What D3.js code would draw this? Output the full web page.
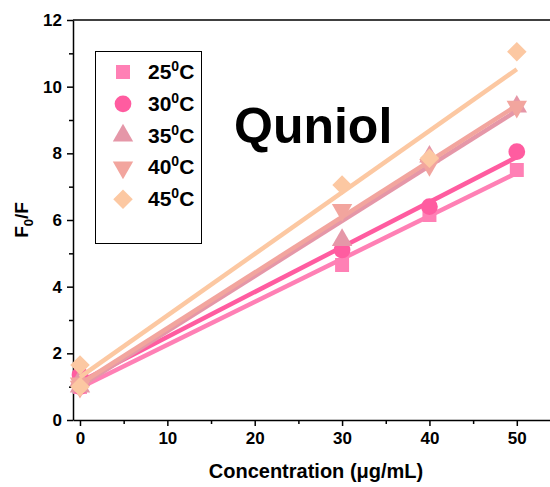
<!DOCTYPE html>
<html>
<head>
<meta charset="utf-8">
<script src="https://cdn.jsdelivr.net/npm/d3@7"></script>
<style>
  body { margin: 0; background: #fff; }
  svg text { font-family: "Liberation Sans", Arial, sans-serif; font-weight: 700; }
</style>
</head>
<body>
<div class="canva"></div>
<script>
// data
const conc = [0, 0, 30, 40, 50];
const temps = ["25", "30", "35", "40", "45"];
const y25 = [1.0, 1.0, 4.65, 6.15, 7.5];
const y30 = [1.0, 1.35, 5.1, 6.4, 8.05];
const y35 = [1.0, 1.2, 5.4, 7.9, 9.4];
const y40 = [1.0, 1.1, 6.3, 7.65, 9.4];
const y45 = [1.0, 1.65, 7.05, 7.85, 11.05];
const xTicks = [0, 10, 20, 30, 40, 50];
const yTicks = [0, 2, 4, 6, 8, 10, 12];

const seriesVals = [y25, y30, y35, y40, y45];
const colors = ["#ff80b5", "#ff5ca0", "#e597a8", "#f2a59e", "#fcc8a2"];
const shapes = ["square", "circle", "up", "down", "diamond"];

const W = 550, H = 487;
const m = { left: 73, right: 0, top: 20, bottom: 67 };

const svg = d3.select(".canva").append("svg").attr("width", W).attr("height", H);

const x = d3.scaleLinear().domain([-0.8, 53.8]).range([m.left, W - m.right]);
const y = d3.scaleLinear().domain([0, 12]).range([H - m.bottom, m.top]);

// minor ticks
svg.append("g")
  .attr("transform", `translate(0,${H - m.bottom})`)
  .call(d3.axisBottom(x).tickValues([5, 15, 25, 35, 45]).tickSize(4).tickFormat(""))
  .call(g => g.select(".domain").remove());
svg.append("g")
  .attr("transform", `translate(${m.left},0)`)
  .call(d3.axisLeft(y).tickValues([1, 3, 5, 7, 9, 11]).tickSize(4).tickFormat(""))
  .call(g => g.select(".domain").remove());

const xAxis = svg.append("g")
  .attr("transform", `translate(0,${H - m.bottom})`)
  .call(d3.axisBottom(x).tickValues(xTicks).tickSize(6).tickSizeOuter(0).tickPadding(6));
const yAxis = svg.append("g")
  .attr("transform", `translate(${m.left},0)`)
  .call(d3.axisLeft(y).tickValues(yTicks).tickSize(6).tickSizeOuter(0).tickPadding(5));

[xAxis, yAxis].forEach(g => {
  g.attr("font-family", null).attr("font-size", null);
  g.selectAll("text").attr("font-size", 17).attr("fill", "#000");
  g.select(".domain").attr("stroke", "#000").attr("stroke-width", 1.5);
});
svg.selectAll("g line").attr("stroke", "#000").attr("stroke-width", 1.5);

// top frame line
svg.append("line")
  .attr("x1", m.left).attr("x2", W).attr("y1", m.top).attr("y2", m.top)
  .attr("stroke", "#000").attr("stroke-width", 1.5);

function fit(xs, ys) {
  const mx = d3.mean(xs), my = d3.mean(ys);
  let sxy = 0, sxx = 0;
  xs.forEach((v, i) => { sxy += (v - mx) * (ys[i] - my); sxx += (v - mx) * (v - mx); });
  const b = sxy / sxx;
  return { a: my - b * mx, b: b };
}

function symbolPath(i) {
  const s = shapes[i];
  if (s === "square") return d3.symbol().type(d3.symbolSquare).size(196)();
  if (s === "circle") return d3.symbol().type(d3.symbolCircle).size(220)();
  if (s === "diamond") return d3.symbol().type(d3.symbolSquare).size(190)();
  return d3.symbol().type(d3.symbolTriangle).size(180)();
}
function symbolRot(i) {
  if (shapes[i] === "down") return " rotate(180)";
  if (shapes[i] === "diamond") return " rotate(45)";
  return "";
}

const plot = svg.append("g");
seriesVals.forEach((vals, i) => {
  const f = fit(conc, vals);
  const xs = d3.extent(conc);
  plot.append("line")
    .attr("x1", x(xs[0])).attr("y1", y(f.a + f.b * xs[0]))
    .attr("x2", x(xs[1])).attr("y2", y(f.a + f.b * xs[1]))
    .attr("stroke", colors[i]).attr("stroke-width", 4.5);
  plot.selectAll(null)
    .data(vals.map((v, j) => [conc[j], v]))
    .join("path")
    .attr("d", symbolPath(i))
    .attr("transform", d => `translate(${x(d[0])},${y(d[1])})` + symbolRot(i))
    .attr("fill", colors[i]);
});

// legend
svg.append("rect")
  .attr("x", 95.5).attr("y", 51.5).attr("width", 106).attr("height", 192)
  .attr("fill", "#fff").attr("stroke", "#000").attr("stroke-width", 1);
temps.forEach((t, i) => {
  const cy = 72 + i * 31.8;
  svg.append("path")
    .attr("d", symbolPath(i))
    .attr("transform", `translate(123,${cy})` + symbolRot(i))
    .attr("fill", colors[i]);
  const tx = svg.append("text")
    .attr("x", 148).attr("y", cy + 7)
    .attr("font-size", 21).attr("fill", "#000");
  tx.append("tspan").text(t);
  tx.append("tspan").text("0").attr("font-size", 14).attr("dy", -8);
  tx.append("tspan").text("C").attr("dy", 8);
});

// title
svg.append("text")
  .attr("x", 234).attr("y", 143)
  .attr("font-size", 50).attr("fill", "#000")
  .text("Quniol");

// axis labels
svg.append("text")
  .attr("x", 316).attr("y", 478)
  .attr("text-anchor", "middle").attr("font-size", 20).attr("fill", "#000")
  .text("Concentration (μg/mL)");

const yl = svg.append("text")
  .attr("transform", "translate(28,220) rotate(-90)")
  .attr("text-anchor", "middle").attr("font-size", 19).attr("fill", "#000");
yl.append("tspan").text("F");
yl.append("tspan").text("0").attr("font-size", 13).attr("dy", 5);
yl.append("tspan").text("/F").attr("dy", -5);
</script>
</body>
</html>
